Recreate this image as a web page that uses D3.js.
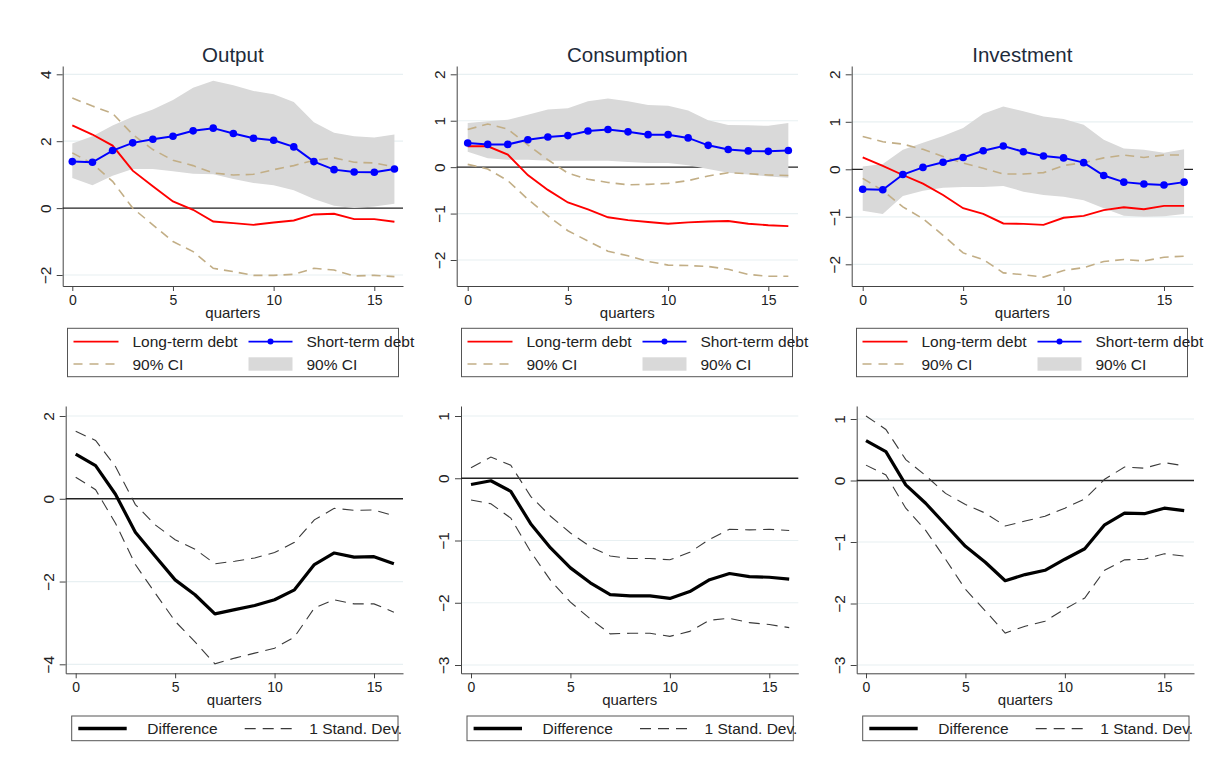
<!DOCTYPE html>
<html>
<head>
<meta charset="utf-8">
<script src="https://cdn.jsdelivr.net/npm/d3@7"></script>
<style>
body{margin:0;background:#fff;}
svg{display:block;font-family:"Liberation Sans",Arial,sans-serif;}
</style>
</head>
<body>
<svg id="chart" width="1226" height="769"></svg>
<script>
// Data
var quarters = [0,1,2,3,4,5,6,7,8,9,10,11,12,13,14,15,16];
var xTicks = [0,5,10,15];
var titles = ["Output","Consumption","Investment"];

var outShort   = [1.39,1.37,1.72,1.95,2.06,2.15,2.31,2.39,2.23,2.09,2.03,1.83,1.39,1.15,1.08,1.07,1.17];
var outShortHi = [1.93,2.15,2.47,2.73,2.95,3.23,3.60,3.81,3.67,3.50,3.40,3.17,2.57,2.25,2.15,2.11,2.20];
var outShortLo = [0.90,0.68,0.97,1.17,1.17,1.10,1.03,1.01,0.87,0.75,0.68,0.53,0.27,0.07,0.00,0.05,0.13];
var outLong    = [2.47,2.20,1.87,1.12,0.65,0.20,-0.05,-0.40,-0.45,-0.50,-0.43,-0.37,-0.19,-0.17,-0.33,-0.33,-0.41];
var outLongHi  = [3.29,3.05,2.83,2.20,1.75,1.43,1.27,1.05,0.99,1.01,1.15,1.27,1.43,1.50,1.37,1.35,1.23];
var outLongLo  = [1.65,1.33,0.80,0.00,-0.50,-1.00,-1.30,-1.80,-1.90,-2.01,-2.01,-1.98,-1.80,-1.85,-2.03,-2.01,-2.05];

var conShort   = [0.52,0.49,0.49,0.59,0.65,0.68,0.78,0.81,0.76,0.70,0.70,0.63,0.47,0.38,0.35,0.34,0.36];
var conShortHi = [0.95,0.99,1.02,1.13,1.24,1.27,1.42,1.48,1.42,1.34,1.32,1.22,1.01,0.91,0.90,0.89,0.95];
var conShortLo = [0.33,0.19,0.16,0.16,0.14,0.14,0.14,0.14,0.11,0.09,0.09,0.04,-0.04,-0.12,-0.16,-0.20,-0.23];
var conLong    = [0.45,0.45,0.27,-0.17,-0.49,-0.76,-0.91,-1.08,-1.14,-1.18,-1.22,-1.19,-1.17,-1.16,-1.22,-1.25,-1.27];
var conLongHi  = [0.81,0.93,0.82,0.48,0.16,-0.13,-0.26,-0.33,-0.38,-0.37,-0.35,-0.29,-0.19,-0.12,-0.14,-0.17,-0.18];
var conLongLo  = [0.06,-0.04,-0.29,-0.69,-1.05,-1.37,-1.59,-1.81,-1.91,-2.03,-2.11,-2.12,-2.14,-2.20,-2.31,-2.35,-2.35];

var invShort   = [-0.42,-0.43,-0.11,0.04,0.15,0.25,0.39,0.49,0.37,0.28,0.24,0.14,-0.13,-0.27,-0.31,-0.33,-0.27];
var invShortHi = [0.06,0.11,0.41,0.56,0.70,0.87,1.17,1.32,1.22,1.11,1.06,0.94,0.62,0.44,0.41,0.35,0.42];
var invShortLo = [-0.87,-0.94,-0.56,-0.45,-0.39,-0.37,-0.37,-0.35,-0.47,-0.54,-0.58,-0.65,-0.82,-0.98,-1.00,-0.99,-0.94];
var invLong    = [0.25,0.07,-0.12,-0.30,-0.54,-0.82,-0.94,-1.14,-1.15,-1.17,-1.02,-0.98,-0.86,-0.80,-0.84,-0.77,-0.77];
var invLongHi  = [0.69,0.58,0.53,0.42,0.27,0.13,0.02,-0.10,-0.10,-0.07,0.08,0.14,0.24,0.30,0.25,0.30,0.30];
var invLongLo  = [-0.19,-0.45,-0.79,-1.04,-1.39,-1.76,-1.90,-2.18,-2.22,-2.27,-2.13,-2.07,-1.94,-1.90,-1.93,-1.85,-1.83];

var difOut   = [1.08,0.80,0.11,-0.81,-1.39,-1.96,-2.32,-2.78,-2.68,-2.58,-2.44,-2.20,-1.59,-1.31,-1.41,-1.40,-1.57];
var difOutHi = [1.63,1.41,0.78,-0.14,-0.63,-0.99,-1.22,-1.57,-1.51,-1.43,-1.30,-1.05,-0.51,-0.23,-0.28,-0.27,-0.41];
var difOutLo = [0.52,0.22,-0.59,-1.59,-2.28,-2.96,-3.46,-3.99,-3.85,-3.73,-3.61,-3.34,-2.64,-2.44,-2.54,-2.54,-2.74];
var difCon   = [-0.10,-0.04,-0.21,-0.73,-1.12,-1.44,-1.68,-1.87,-1.89,-1.89,-1.93,-1.82,-1.63,-1.53,-1.58,-1.59,-1.62];
var difConHi = [0.17,0.34,0.21,-0.29,-0.61,-0.88,-1.10,-1.25,-1.29,-1.29,-1.31,-1.19,-0.98,-0.82,-0.83,-0.82,-0.84];
var difConLo = [-0.35,-0.41,-0.64,-1.18,-1.64,-1.99,-2.26,-2.50,-2.49,-2.49,-2.54,-2.46,-2.28,-2.25,-2.32,-2.35,-2.40];
var difInv   = [0.65,0.47,-0.07,-0.37,-0.72,-1.07,-1.33,-1.63,-1.53,-1.46,-1.28,-1.11,-0.72,-0.53,-0.54,-0.45,-0.49];
var difInvHi = [1.05,0.83,0.34,0.08,-0.21,-0.39,-0.53,-0.74,-0.66,-0.58,-0.45,-0.30,0.02,0.22,0.20,0.29,0.24];
var difInvLo = [0.25,0.09,-0.45,-0.81,-1.28,-1.77,-2.12,-2.48,-2.37,-2.29,-2.09,-1.91,-1.46,-1.29,-1.28,-1.19,-1.23];

var topTicks = [[-2,0,2,4],[-2,-1,0,1,2],[-2,-1,0,1,2]];
var botTicks = [[-4,-2,0,2],[-3,-2,-1,0,1],[-3,-2,-1,0,1]];

// panel frames (pixels) and two reference values per axis
var topFrames = [
    {left:62.7, right:403, top:66, bottom:286, x0:72.3, x15:374.3, ya:4, yaPx:74.3, yb:-2, ybPx:275},
    {left:456.7, right:798, top:66, bottom:286, x0:467.7, x15:768.3, ya:2, yaPx:74.3, yb:-2, ybPx:260},
    {left:851.7, right:1193, top:66, bottom:286, x0:862.7, x15:1164, ya:2, yaPx:74.3, yb:-2, ybPx:264.3}
];
var botFrames = [
    {left:65.7, right:403, top:406, bottom:673.3, x0:75.7, x15:374, ya:2, yaPx:416, yb:-4, ybPx:664.3},
    {left:461, right:798.3, top:406, bottom:673.3, x0:471, x15:769.3, ya:1, yaPx:416, yb:-3, ybPx:665},
    {left:856.7, right:1194, top:406, bottom:673.3, x0:866, x15:1164.3, ya:1, yaPx:419, yb:-3, ybPx:665}
];

var svg = d3.select("#chart");
var RED = "#ff0000", BLUE = "#0000ff", TAN = "#c2ae86", BAND = "#d9d9d9";

function scales(p){
    var x = d3.scaleLinear().domain([0,15]).range([p.x0, p.x15]);
    x.domain([x.invert(p.left), x.invert(p.right)]).range([p.left, p.right]);
    var y = d3.scaleLinear().domain([p.ya, p.yb]).range([p.yaPx, p.ybPx]);
    y.domain([y.invert(p.bottom), y.invert(p.top)]).range([p.bottom, p.top]);
    return {x:x, y:y};
}

function frame(g, p, s, yTicks){
    // light grid
    g.selectAll(".grid").data(yTicks.filter(function(d){ return d != 0; })).enter()
        .append("line")
        .attr("x1", p.left).attr("x2", p.right)
        .attr("y1", function(d){ return s.y(d); }).attr("y2", function(d){ return s.y(d); })
        .attr("stroke", "#e8f0f2").attr("stroke-width", 1.2);

    var xa = g.append("g").attr("transform", "translate(0," + p.bottom + ")")
        .call(d3.axisBottom(s.x).tickValues(xTicks).tickSize(5).tickSizeOuter(0).tickPadding(4));
    var ya = g.append("g").attr("transform", "translate(" + p.left + ",0)")
        .call(d3.axisLeft(s.y).tickValues(yTicks).tickSize(6).tickSizeOuter(0).tickFormat(d3.format("d")));
    [xa, ya].forEach(function(a){
        a.attr("font-family", null).attr("font-size", null);
        a.select(".domain").attr("stroke", "#444");
        a.selectAll(".tick line").attr("stroke", "#444");
        a.selectAll("text").attr("fill", "#222").style("font-size", "14px");
    });
    ya.selectAll("text")
        .attr("x", 0).attr("dy", null)
        .attr("text-anchor", "middle")
        .attr("transform", "translate(-12,0) rotate(-90)")
        .style("font-size", "15.5px");

    g.append("text")
        .attr("x", (p.left + p.right) / 2)
        .attr("y", p.bottom + 32)
        .attr("text-anchor", "middle")
        .attr("fill", "#222").style("font-size", "15px")
        .text("quarters");
}

function zeroLine(g, p, s){
    g.append("line")
        .attr("x1", p.left).attr("x2", p.right)
        .attr("y1", s.y(0)).attr("y2", s.y(0))
        .attr("stroke", "#222").attr("stroke-width", 1.3);
}

function drawTop(i, shortS, shortHi, shortLo, longS, longHi, longLo){
    var p = topFrames[i], s = scales(p);
    var g = svg.append("g");
    frame(g, p, s, topTicks[i]);
    zeroLine(g, p, s);

    var area = d3.area()
        .x(function(d, k){ return s.x(quarters[k]); })
        .y0(function(d, k){ return s.y(shortLo[k]); })
        .y1(function(d){ return s.y(d); });
    g.append("path").datum(shortHi).attr("d", area).attr("fill", BAND);

    var line = d3.line()
        .x(function(d, k){ return s.x(quarters[k]); })
        .y(function(d){ return s.y(d); });
    [longHi, longLo].forEach(function(arr){
        g.append("path").datum(arr).attr("d", line)
            .attr("fill", "none").attr("stroke", TAN).attr("stroke-width", 1.6)
            .attr("stroke-dasharray", "9,6");
    });
    g.append("path").datum(longS).attr("d", line)
        .attr("fill", "none").attr("stroke", RED).attr("stroke-width", 1.9);
    g.append("path").datum(shortS).attr("d", line)
        .attr("fill", "none").attr("stroke", BLUE).attr("stroke-width", 2);
    g.selectAll(".dot").data(shortS).enter().append("circle")
        .attr("cx", function(d, k){ return s.x(quarters[k]); })
        .attr("cy", function(d){ return s.y(d); })
        .attr("r", 3.8).attr("fill", BLUE);

    g.append("text")
        .attr("x", (p.left + p.right) / 2).attr("y", 62)
        .attr("text-anchor", "middle")
        .attr("fill", "#1e2b3a").style("font-size", "20.5px")
        .text(titles[i]);

    // legend
    var bx = p.left + 4.8, by = 328.3;
    var lg = g.append("g");
    lg.append("rect").attr("x", bx).attr("y", by).attr("width", 331).attr("height", 48.4)
        .attr("fill", "#fff").attr("stroke", "#555").attr("stroke-width", 1);
    lg.append("line").attr("x1", bx + 6).attr("x2", bx + 51).attr("y1", by + 13.3).attr("y2", by + 13.3)
        .attr("stroke", RED).attr("stroke-width", 1.8);
    lg.append("line").attr("x1", bx + 181).attr("x2", bx + 225).attr("y1", by + 13.3).attr("y2", by + 13.3)
        .attr("stroke", BLUE).attr("stroke-width", 1.8);
    lg.append("circle").attr("cx", bx + 203).attr("cy", by + 13.3).attr("r", 3).attr("fill", BLUE);
    lg.append("line").attr("x1", bx + 6).attr("x2", bx + 51).attr("y1", by + 35.7).attr("y2", by + 35.7)
        .attr("stroke", TAN).attr("stroke-width", 1.5).attr("stroke-dasharray", "9,7");
    lg.append("rect").attr("x", bx + 181).attr("y", by + 29).attr("width", 44).attr("height", 13.4)
        .attr("fill", BAND);
    var labels = [["Long-term debt", 65, 18.8], ["Short-term debt", 239, 18.8],
                  ["90% CI", 65, 41.2], ["90% CI", 239, 41.2]];
    lg.selectAll(".lab").data(labels).enter().append("text")
        .attr("x", function(d){ return bx + d[1]; })
        .attr("y", function(d){ return by + d[2]; })
        .attr("fill", "#222").style("font-size", "15.5px")
        .text(function(d){ return d[0]; });
}

function drawBottom(i, dif, hi, lo){
    var p = botFrames[i], s = scales(p);
    var g = svg.append("g");
    frame(g, p, s, botTicks[i]);
    zeroLine(g, p, s);

    var line = d3.line()
        .x(function(d, k){ return s.x(quarters[k]); })
        .y(function(d){ return s.y(d); });
    [hi, lo].forEach(function(arr){
        g.append("path").datum(arr).attr("d", line)
            .attr("fill", "none").attr("stroke", "#3a3a3a").attr("stroke-width", 1.1)
            .attr("stroke-dasharray", "11,7");
    });
    g.append("path").datum(dif).attr("d", line)
        .attr("fill", "none").attr("stroke", "#000").attr("stroke-width", 3.2)
        .attr("stroke-linejoin", "round");

    // legend
    var bx = p.left + 6, by = 716;
    var lg = g.append("g");
    lg.append("rect").attr("x", bx).attr("y", by).attr("width", 326.3).attr("height", 24.7)
        .attr("fill", "#fff").attr("stroke", "#555").attr("stroke-width", 1);
    lg.append("line").attr("x1", bx + 6.6).attr("x2", bx + 55).attr("y1", by + 12.6).attr("y2", by + 12.6)
        .attr("stroke", "#000").attr("stroke-width", 3.5);
    lg.append("line").attr("x1", bx + 173).attr("x2", bx + 222).attr("y1", by + 12.6).attr("y2", by + 12.6)
        .attr("stroke", "#3a3a3a").attr("stroke-width", 1.1).attr("stroke-dasharray", "11,7");
    lg.append("text").attr("x", bx + 75.6).attr("y", by + 18)
        .attr("fill", "#222").style("font-size", "15.5px").text("Difference");
    lg.append("text").attr("x", bx + 237.6).attr("y", by + 18)
        .attr("fill", "#222").style("font-size", "15.5px").text("1 Stand. Dev.");
}

drawTop(0, outShort, outShortHi, outShortLo, outLong, outLongHi, outLongLo);
drawTop(1, conShort, conShortHi, conShortLo, conLong, conLongHi, conLongLo);
drawTop(2, invShort, invShortHi, invShortLo, invLong, invLongHi, invLongLo);
drawBottom(0, difOut, difOutHi, difOutLo);
drawBottom(1, difCon, difConHi, difConLo);
drawBottom(2, difInv, difInvHi, difInvLo);
</script>
</body>
</html>
